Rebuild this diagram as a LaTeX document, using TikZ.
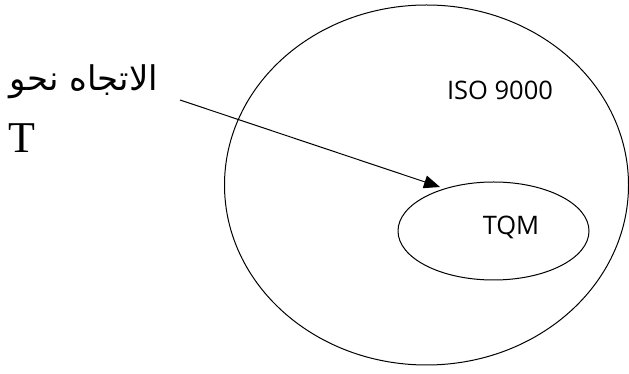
\documentclass[tikz,border=0pt]{standalone}
\usepackage{fontspec}
\setmainfont{Liberation Serif}
\newfontfamily\labelfont{Open Sans}
\newfontfamily\arabicfont[Script=Arabic]{DejaVu Sans}
\TeXXeTstate=1
\usetikzlibrary{shapes.geometric,arrows.meta}
\begin{document}
\begin{tikzpicture}[x=1pt,y=1pt,
  ring/.style={draw,ellipse,line width=1pt,inner sep=0pt},
  tag/.style={font=\labelfont\fontsize{25.5}{30}\selectfont,inner sep=0pt},
  pointer/.style={line width=1pt,-{Triangle[length=16pt,width=13pt]}}]
\useasboundingbox (0,0) rectangle (629,374);
% outer set and inner subset
\node[ring,minimum width=404pt,minimum height=360pt] (iso) at (426.5,189) {};
\node[ring,minimum width=191pt,minimum height=98pt] (tqm) at (493.5,143) {};
\node[tag] (isolabel) at (500,284) {ISO 9000};
\node[tag] (tqmlabel) at (511,147) {TQM};
% caption on the left
\node[inner sep=0pt] (caption) at (84,292) {\arabicfont\fontsize{34}{38}\selectfont\beginR الاتجاه نحو\endR};
\node[inner sep=0pt,anchor=base west,font=\fontsize{44}{48}\selectfont] (tee) at (8,221) {T};
% arrow from the caption into the subset
\coordinate (from) at (180,274);
\coordinate (tip) at (440,187);
\draw[pointer] (from) -- (tip);
\end{tikzpicture}
\end{document}
